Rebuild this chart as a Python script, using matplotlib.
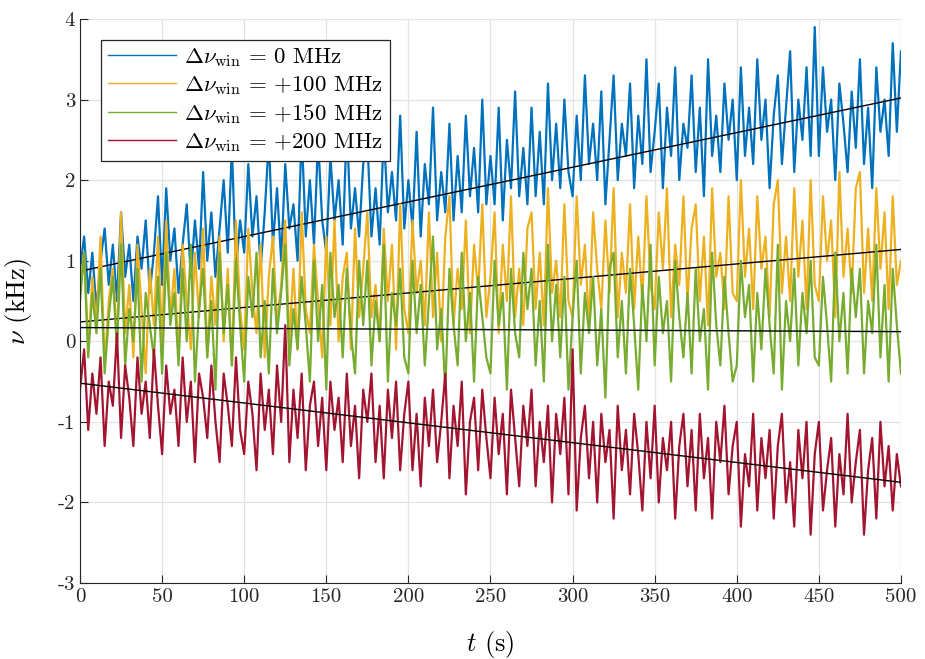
import numpy as np
import matplotlib
matplotlib.use("Agg")
import matplotlib.pyplot as plt

# DATA (every 2.5 s, kHz)
t = np.arange(0, 502.5, 2.5)

nu_0 = [0.9, 1.3, 0.6, 1.1, 0.4, 1.0, 1.4, 0.7, 1.2, 0.5,
        1.6, 0.8, 1.2, 0.5, 1.3, 0.9, 1.5, 0.6, 1.1, 1.8,
        0.7, 1.9, 1.0, 1.4, 0.6, 1.2, 1.7, 0.8, 1.5, 0.9,
        2.1, 1.0, 1.6, 0.8, 1.4, 2.0, 1.1, 2.4, 0.9, 1.5,
        1.1, 2.2, 1.3, 1.8, 0.9, 1.6, 2.5, 1.2, 1.9, 1.0,
        2.2, 1.4, 1.7, 1.0, 2.6, 1.3, 2.0, 1.2, 2.5, 1.5,
        1.1, 2.3, 1.5, 2.0, 1.2, 2.7, 1.4, 1.9, 1.3, 2.2,
        2.5, 1.3, 1.9, 1.2, 2.6, 1.6, 2.1, 1.5, 2.8, 1.4,
        2.0, 1.4, 2.6, 1.3, 2.2, 1.7, 2.9, 1.5, 2.1, 1.6,
        2.7, 1.5, 2.3, 1.6, 2.8, 1.8, 2.4, 1.6, 3.0, 1.7,
        2.3, 1.7, 2.9, 1.5, 2.5, 1.9, 3.1, 1.8, 2.4, 1.7,
        2.9, 1.8, 2.6, 1.7, 3.2, 2.0, 2.7, 1.9, 3.0, 2.1,
        1.8, 2.8, 2.0, 3.3, 2.2, 2.7, 2.0, 3.1, 1.7, 2.5,
        3.3, 2.0, 2.7, 2.3, 3.2, 1.9, 2.8, 2.2, 3.5, 2.1,
        2.6, 3.2, 1.9, 2.9, 2.3, 3.4, 2.0, 2.7, 2.4, 3.3,
        2.1, 2.9, 1.8, 3.5, 2.3, 2.8, 2.1, 3.2, 2.5, 3.0,
        2.0, 3.4, 2.3, 2.9, 2.2, 3.5, 2.5, 3.0, 1.9, 2.8,
        3.3, 2.2, 2.9, 3.6, 2.1, 3.0, 2.5, 3.4, 2.3, 3.9,
        2.3, 3.4, 2.6, 3.0, 2.0, 3.2, 2.7, 2.1, 3.1, 2.4,
        3.5, 2.2, 2.9, 1.9, 3.4, 2.6, 3.0, 2.3, 3.7, 2.6,
        3.6]

nu_100 = [0.6, 1.1, -0.1, 0.8, 0.2, 1.3, -0.3, 0.5, 0.9, 0.0,
          1.6, 0.1, 0.7, -0.2, 1.2, 0.4, -0.4, 0.9, 0.2, 1.3,
          0.0, 1.5, 0.3, 0.9, -0.2, 1.2, 0.5, -0.1, 1.1, 0.3,
          1.4, -0.2, 0.8, 0.2, 1.3, 0.0, 0.9, -0.3, 1.5, 0.4,
          -0.1, 1.4, 0.6, 0.1, 1.2, -0.2, 0.8, 1.3, 0.2, 0.7,
          1.5, 0.0, 0.9, -0.1, 1.6, 0.4, 0.1, 1.2, 0.5, -0.2,
          1.3, 0.2, 1.5, 0.0, 0.8, 1.1, -0.1, 1.4, 0.3, 0.9,
          1.6, 0.3, 0.7, 0.0, 1.4, 0.5, 1.2, -0.1, 1.7, 0.4,
          0.1, 1.5, 0.6, 1.0, 0.2, 1.6, 0.3, 1.1, 0.0, 1.3,
          1.8, 0.2, 0.9, 0.4, 1.5, 0.1, 1.2, 0.6, 1.7, 0.3,
          0.8, 1.6, 0.1, 1.2, 0.5, 1.8, 0.3, 0.9, 0.2, 1.4,
          1.6, 0.4, 1.1, 0.2, 1.9, 0.6, 1.0, 0.3, 1.7, 0.5,
          0.3, 1.8, 0.7, 1.2, 0.2, 1.6, 0.9, 0.4, 1.5, 0.6,
          1.9, 0.3, 1.1, 0.6, 1.7, 0.4, 1.3, 0.5, 1.8, 0.7,
          0.4, 1.6, 0.9, 1.9, 0.3, 1.2, 0.7, 1.8, 0.5, 1.4,
          1.7, 0.5, 1.3, 0.2, 1.9, 0.8, 1.1, 0.4, 1.8, 0.6,
          0.5, 2.0, 0.8, 1.4, 0.4, 1.8, 0.9, 1.3, 0.3, 1.7,
          2.0, 0.6, 1.3, 0.5, 1.9, 0.8, 1.5, 0.4, 2.0, 0.7,
          0.5, 1.8, 1.0, 1.5, 0.3, 2.1, 0.8, 1.4, 0.6, 1.9,
          2.1, 0.6, 1.4, 0.5, 1.9, 0.9, 1.6, 0.4, 1.8, 0.7,
          1.0]

nu_150 = [0.5, 1.1, -0.2, 0.6, 0.1, 0.9, -0.4, 0.3, 0.8, -0.1,
          1.2, -0.3, 0.4, 0.0, 0.9, -0.5, 0.6, 0.2, -0.2, 0.8,
          -0.4, 1.1, 0.2, 0.6, -0.3, 0.9, 0.0, 1.2, -0.5, 0.4,
          0.9, -0.2, 0.5, -0.6, 1.1, 0.1, 0.7, -0.3, 1.0, 0.2,
          -0.5, 0.8, 0.3, 1.1, -0.2, 0.5, -0.4, 0.9, 0.1, 0.6,
          1.2, -0.3, 0.4, -0.1, 0.8, 0.2, -0.5, 1.0, 0.0, 0.7,
          -0.6, 1.1, 0.3, 0.7, -0.2, 0.9, 0.1, -0.4, 1.0, 0.2,
          1.0, -0.3, 0.5, 0.0, 1.2, -0.5, 0.6, 0.2, 0.9, -0.2,
          -0.4, 1.0, 0.1, 0.7, -0.3, 0.5, 1.3, -0.1, 0.4, -0.6,
          0.9, 0.2, -0.3, 1.1, 0.0, 0.6, -0.5, 0.8, 0.3, -0.2,
          -0.4, 1.0, 0.2, 0.6, -0.6, 0.9, 0.1, -0.2, 1.1, 0.4,
          0.9, -0.3, 0.5, -0.5, 1.2, 0.0, 0.7, -0.2, 0.8, -0.6,
          0.3, 1.0, -0.4, 0.6, 0.1, 0.8, -0.3, 0.4, -0.7, 0.9,
          1.1, -0.2, 0.5, -0.4, 0.9, 0.2, -0.6, 0.7, 0.0, 1.2,
          -0.3, 0.8, 0.1, 0.5, -0.5, 1.0, 0.3, -0.2, 0.6, -0.4,
          0.9, 0.0, 0.4, -0.6, 1.1, 0.2, -0.3, 0.8, 0.1, -0.5,
          -0.3, 1.0, 0.3, 0.7, -0.5, 0.6, -0.1, 0.9, 0.2, -0.4,
          1.2, -0.6, 0.5, 0.0, 0.9, -0.3, 0.6, 0.1, 1.0, -0.2,
          -0.3, 0.8, 0.2, -0.5, 1.1, 0.0, 0.6, -0.4, 0.9, 0.3,
          0.9, -0.4, 0.5, 0.1, 1.2, -0.2, 0.7, -0.5, 0.9, 0.2,
          -0.4]

nu_200 = [-0.6, -0.1, -1.1, -0.4, -0.9, -0.2, -1.3, -0.5, -0.8, 0.1,
          -1.2, -0.3, -0.7, -1.3, -0.2, -0.9, -0.5, -1.2, -0.1, -0.8,
          -1.4, -0.3, -0.9, -0.6, -1.3, -0.2, -1.0, -0.5, -1.5, -0.4,
          -0.7, -1.2, -0.3, -1.0, -1.5, -0.4, -0.8, -1.3, -0.2, -1.1,
          -1.4, -0.5, -0.9, -1.6, -0.4, -1.1, -0.6, -1.4, -0.3, -1.0,
          0.2, -1.5, -0.6, -1.2, -0.4, -1.6, -0.8, -0.5, -1.3, -0.7,
          -1.6, -0.5, -1.1, -0.7, -1.5, -0.4, -1.3, -0.8, -1.7, -0.6,
          -1.0, -0.4, -1.5, -0.8, -1.7, -0.6, -1.2, -0.5, -1.6, -0.9,
          -0.5, -1.6, -0.9, -1.8, -0.7, -1.3, -0.6, -1.5, -1.0, -0.4,
          -1.7, -0.8, -1.3, -0.5, -1.9, -1.0, -0.7, -1.6, -0.6, -1.2,
          -1.7, -0.7, -1.4, -0.9, -1.9, -0.6, -1.2, -1.8, -0.8, -1.3,
          -0.6, -1.8, -1.0, -1.5, -0.8, -2.0, -0.9, -1.4, -0.7, -1.9,
          -0.1, -2.1, -1.2, -0.8, -1.7, -1.0, -2.0, -0.9, -1.5, -1.1,
          -2.2, -0.8, -1.6, -1.1, -1.9, -0.9, -1.4, -2.1, -1.0, -1.7,
          -0.8, -2.0, -1.2, -1.6, -1.0, -2.2, -1.3, -0.9, -1.8, -1.1,
          -2.1, -0.9, -1.7, -1.2, -2.2, -1.0, -1.5, -0.8, -1.9, -1.3,
          -1.0, -2.3, -1.4, -1.8, -0.9, -2.1, -1.2, -1.7, -1.1, -2.2,
          -1.3, -0.9, -2.0, -1.5, -2.3, -1.1, -1.7, -1.0, -2.4, -1.4,
          -1.0, -2.1, -1.6, -1.2, -2.3, -1.4, -1.9, -0.9, -2.0, -1.5,
          -1.1, -2.4, -1.6, -1.2, -2.2, -1.0, -1.8, -1.3, -2.1, -1.4,
          -1.8]

# linear fits: value at t = 0 s and t = 500 s
fit_t = [0, 500]
fit_0 = [0.87, 3.02]
fit_100 = [0.24, 1.14]
fit_150 = [0.17, 0.12]
fit_200 = [-0.52, -1.75]

labels = [r"$\Delta\nu_{\rm win}\,=\,0$ MHz", r"$\Delta\nu_{\rm win}\,=\,{+}100$ MHz",
          r"$\Delta\nu_{\rm win}\,=\,{+}150$ MHz", r"$\Delta\nu_{\rm win}\,=\,{+}200$ MHz"]
colors = ["#0072BD", "#EDB120", "#77AC30", "#A2142F"]

plt.rcParams['font.family'] = 'cmr10'
plt.rcParams['mathtext.fontset'] = 'cm'
plt.rcParams['axes.unicode_minus'] = False

fig = plt.figure(figsize=(9.25, 6.59), dpi=100)
ax = fig.add_axes([0.0865, 0.1153, 0.8875, 0.8559])

series = [nu_0, nu_100, nu_150, nu_200]
fits = [fit_0, fit_100, fit_150, fit_200]
for vals, fit, c, lab in zip(series, fits, colors, labels):
    ax.plot(t, vals, color=c, lw=1.6, label=lab, zorder=2)
    ax.plot(fit_t, fit, color='black', lw=1.0, zorder=2)

ax.set_xlim(0, 500)
ax.set_ylim(-3, 4)
ax.set_xticks(np.arange(0, 501, 50))
ax.set_xticklabels([str(v) for v in range(0, 501, 50)])
ax.set_yticks(np.arange(-3, 5))
ax.set_yticklabels([str(v) for v in range(-3, 5)])
ax.tick_params(direction='in', length=6, labelsize=15, colors='#262626')
ax.grid(True, color='#e3e3e3', lw=0.9)
ax.set_axisbelow(True)
for s in ['top', 'right']:
    ax.spines[s].set_visible(False)
for s in ['left', 'bottom']:
    ax.spines[s].set_color('#262626')

ax.set_xlabel(r"$t$ (s)", fontsize=19, labelpad=17)
ax.set_ylabel(r"$\nu$ (kHz)", fontsize=19, labelpad=17)

leg = ax.legend(loc='upper left', fontsize=16.5, frameon=True, fancybox=False,
                edgecolor='#262626', framealpha=1, handlelength=3.0,
                handletextpad=0.35, borderaxespad=0.9, labelspacing=0.22,
                borderpad=0.3)
leg.get_frame().set_linewidth(0.9)
for h in leg.get_lines():
    h.set_linewidth(1.0)

fig.savefig("out.png", dpi=100)
